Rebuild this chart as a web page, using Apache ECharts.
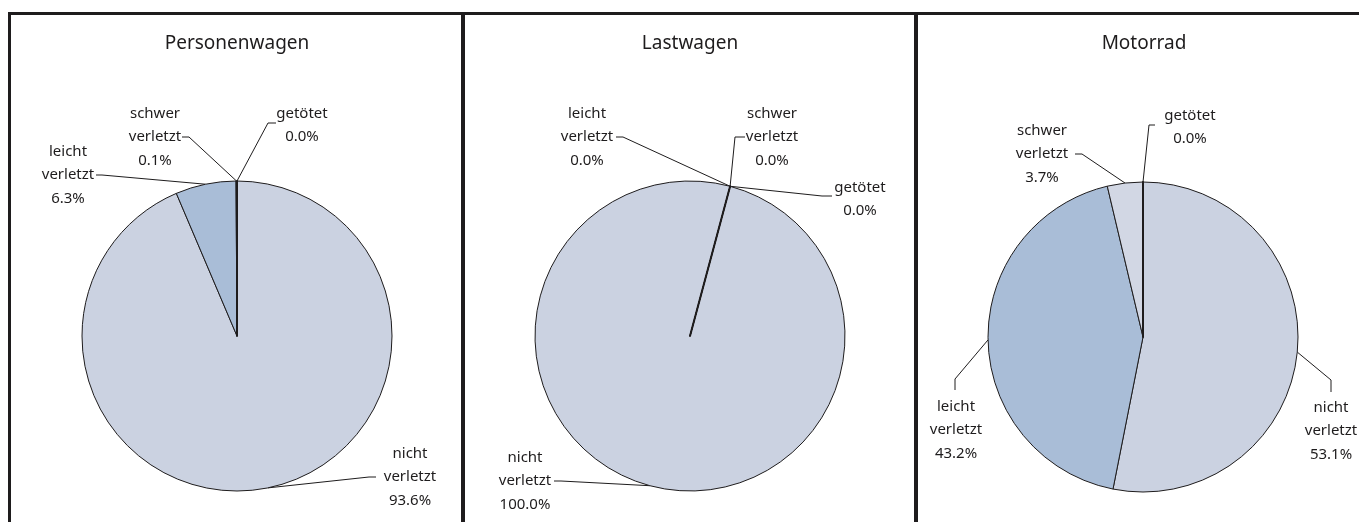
<!DOCTYPE html>
<html><head><meta charset="utf-8">
<script src="https://cdn.jsdelivr.net/npm/echarts@6/dist/echarts.min.js"></script>
<style>html,body{margin:0;padding:0;background:#fff}#c{width:1359px;height:522px}</style>
</head><body><div id="c"></div>
<script>
// ---- data ----
const categories = ['nicht\nverletzt', 'leicht\nverletzt', 'schwer\nverletzt', 'getötet'];
const panelTitles = ['Personenwagen', 'Lastwagen', 'Motorrad'];
const personenwagen = [93.6, 6.3, 0.1, 0.0];
const lastwagen = [100.0, 0.0, 0.0, 0.0];
const motorrad = [53.1, 43.2, 3.7, 0.0];

// ---- styling / layout ----
const sliceColors = ['#CBD2E1', '#A9BDD7', '#D2D7E4', '#333333'];
const sliceBorder = [1, 1, 1, 2];
const ink = '#1E1C1D';
const FONT = 'Noto Sans';
const panels = [
  { center: [237, 336], start: 90, titleX: 237 },
  { center: [690, 336], start: 75, titleX: 690 },
  { center: [1143, 337], start: 90, titleX: 1144 }
];
// label text centre (x,y), anchor point a at text side, stub point s
const labelPos = [
  [ {x:410,y:477,a:[376,477],s:[369,477]}, {x:68,y:175,a:[96,175],s:[102,175]},
    {x:155,y:137,a:[182,137],s:[189,137]}, {x:302,y:125,a:[276,123],s:[268,123]} ],
  [ {x:525,y:481,a:[554,481],s:[561,481]}, {x:587,y:137,a:[616,137],s:[623,137]},
    {x:772,y:137,a:[745,137],s:[735,137]}, {x:860,y:199,a:[832,196],s:[822,196]} ],
  [ {x:1331,y:431,a:[1331,392],s:[1331,380]}, {x:956,y:430,a:[955,390],s:[955,379]},
    {x:1042,y:154,a:[1075,154],s:[1082,154]}, {x:1190,y:127,a:[1155,125],s:[1149,125]} ]
];
const datasets = [personenwagen, lastwagen, motorrad];

const series = datasets.map((vals, si) => ({
  type: 'pie',
  center: panels[si].center,
  radius: 155,
  startAngle: panels[si].start,
  clockwise: true,
  animation: false,
  silent: true,
  avoidLabelOverlap: false,
  data: vals.map((v, i) => ({ name: categories[i], value: v,
    itemStyle: { color: sliceColors[i], borderWidth: sliceBorder[i] } })),
  itemStyle: { borderColor: ink, borderWidth: 1 },
  label: {
    show: true, position: 'outside', color: ink, fontFamily: FONT, fontSize: 15, lineHeight: 23.5,
    align: 'center',
    formatter: p => p.name + '\n' + p.value.toFixed(1) + '%'
  },
  labelLine: { show: true, lineStyle: { color: ink, width: 1 }, length: 10, length2: 10 },
  labelLayout: function (params) {
    const cfg = labelPos[si][params.dataIndex];
    let edge;
    if (params.labelLinePoints && params.labelLinePoints[0]) {
      edge = [params.labelLinePoints[0][0], params.labelLinePoints[0][1]];
    }
    const out = { x: cfg.x, y: cfg.y, align: 'center', verticalAlign: 'middle', hideOverlap: false };
    if (edge) out.labelLinePoints = [edge, cfg.s, cfg.a];
    return out;
  }
}));

const graphic = [
  { type: 'rect', shape: { x: 8, y: 12, width: 1351, height: 3 }, style: { fill: ink } },
  { type: 'rect', shape: { x: 8, y: 12, width: 3, height: 510 }, style: { fill: ink } },
  { type: 'rect', shape: { x: 461, y: 12, width: 4, height: 510 }, style: { fill: ink } },
  { type: 'rect', shape: { x: 914, y: 12, width: 4, height: 510 }, style: { fill: ink } }
].concat(panelTitles.map((t, i) => ({
  type: 'text', x: panels[i].titleX, y: 44,
  style: { text: t, fill: ink, font: '19px "' + FONT + '"', textAlign: 'center', textVerticalAlign: 'middle' }
})));

const chart = echarts.init(document.getElementById('c'), null, { renderer: 'canvas' });
chart.setOption({ backgroundColor: '#ffffff', animation: false, series, graphic });
</script></body></html>
